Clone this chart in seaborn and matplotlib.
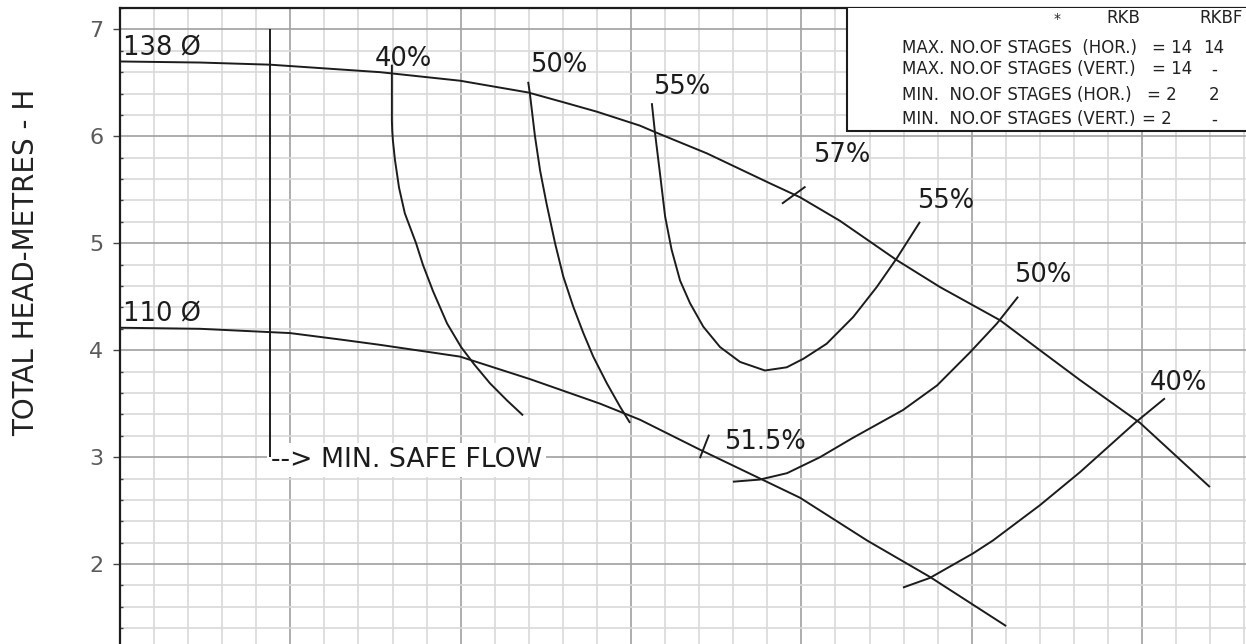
import numpy as np
import matplotlib
matplotlib.use("Agg")
import matplotlib.pyplot as plt
from matplotlib.patches import Rectangle
import seaborn as sns

# ---------------- data ----------------
# head/capacity curves for two impeller diameters
d138_x = [0.00, 2.35, 4.40, 7.63, 9.98, 11.98, 13.00, 14.00, 15.26, 15.70, 17.23, 19.08, 19.96,
          21.13, 22.81, 24.07, 25.83, 27.00, 28.18, 29.94, 31.99]
d138_y = [6.70, 6.69, 6.67, 6.60, 6.52, 6.41, 6.32, 6.23, 6.10, 6.04, 5.84, 5.56, 5.43,
          5.21, 4.84, 4.59, 4.28, 4.00, 3.72, 3.32, 2.72]

d110_x = [0.00, 2.35, 4.99, 6.46, 7.63, 9.98, 12.03, 14.09, 15.26, 17.02, 19.96, 21.93, 23.77, 26.01]
d110_y = [4.21, 4.20, 4.16, 4.10, 4.05, 3.94, 3.73, 3.50, 3.35, 3.07, 2.62, 2.22, 1.88, 1.42]

# iso-efficiency curves
eff40a_x = [7.98, 7.98, 7.99, 8.01, 8.07, 8.19, 8.36, 8.69, 8.89, 9.19, 9.60, 10.01, 10.39, 10.86, 11.36, 11.83]
eff40a_y = [6.67, 6.15, 6.05, 5.96, 5.78, 5.52, 5.28, 5.00, 4.80, 4.55, 4.25, 4.03, 3.87, 3.69, 3.53, 3.39]

eff50a_x = [11.98, 12.03, 12.18, 12.33, 12.52, 12.77, 13.01, 13.30, 13.60, 13.89, 14.29, 14.68, 14.97]
eff50a_y = [6.51, 6.40, 6.00, 5.68, 5.37, 5.00, 4.69, 4.41, 4.16, 3.94, 3.69, 3.47, 3.32]

eff55_x = [15.61, 15.70, 15.85, 16.00, 16.19, 16.44, 16.73, 17.12, 17.61, 18.20, 18.93, 19.57,
           20.06, 20.74, 21.52, 22.21, 22.80, 23.48]
eff55_y = [6.31, 6.04, 5.65, 5.25, 4.94, 4.65, 4.44, 4.22, 4.03, 3.89, 3.81, 3.84,
           3.92, 4.06, 4.31, 4.59, 4.86, 5.20]

eff50b_x = [17.99, 18.78, 19.58, 20.55, 21.51, 22.98, 23.98, 24.95, 25.74, 26.36]
eff50b_y = [2.77, 2.79, 2.85, 3.00, 3.18, 3.44, 3.67, 3.98, 4.25, 4.50]

eff40b_x = [22.98, 23.77, 25.04, 25.62, 27.00, 28.18, 29.79, 30.67]
eff40b_y = [1.78, 1.87, 2.10, 2.22, 2.55, 2.86, 3.32, 3.55]

# short best-efficiency marks
mark57_x = [19.43, 20.12]
mark57_y = [5.37, 5.53]
mark515_x = [17.02, 17.29]
mark515_y = [2.99, 3.21]

# minimum safe flow line
minflow_x = [4.40, 4.40]
minflow_y = [7.00, 3.00]

# curve labels: text, x (left), y (baseline)
curve_labels = ["138 Ø", "110 Ø", "40%", "50%", "55%", "57%", "55%", "50%", "40%", "51.5%"]
label_x = [0.09, 0.09, 7.48, 12.03, 15.64, 20.34, 23.39, 26.24, 30.23, 17.73]
label_y = [6.757, 4.27, 6.66, 6.60, 6.40, 5.76, 5.33, 4.64, 3.63, 3.08]

y_ticks = [2, 3, 4, 5, 6, 7]

table_header = ["*", "RKB", "RKBF"]
table_rows = ["MAX. NO.OF STAGES  (HOR.)", "MAX. NO.OF STAGES (VERT.)",
              "MIN.  NO.OF STAGES (HOR.)", "MIN.  NO.OF STAGES (VERT.)"]
table_rkb = ["= 14", "= 14", "= 2", "= 2"]
table_rkbf = ["14", "-", "2", "-"]

# ---------------- figure ----------------
sns.set_theme(style="white")
plt.rcParams["font.family"] = ["DejaVu Sans"]

W, H = 1246, 644
fig = plt.figure(figsize=(W / 100, H / 100), dpi=100)
fig.patch.set_facecolor("white")
ax = fig.add_axes([120 / W, 0, 1 - 120 / W, 1 - 8 / H])


def px2x(px):
    return (px - 120) / 34.07


def py2y(py):
    return 7 - (py - 29) / 107.0


ax.set_xlim(0, px2x(1246))
ax.set_ylim(py2y(644), py2y(8))

LINE = "#1c1c1c"
LW = 1.4
curves = [(d138_x, d138_y), (d110_x, d110_y), (eff40a_x, eff40a_y), (eff50a_x, eff50a_y),
          (eff55_x, eff55_y), (eff50b_x, eff50b_y), (eff40b_x, eff40b_y),
          (mark57_x, mark57_y), (mark515_x, mark515_y), (minflow_x, minflow_y)]
for cx, cy in curves:
    sns.lineplot(x=cx, y=cy, sort=False, estimator=None, color=LINE, lw=LW, ax=ax, zorder=3)
for ln in ax.lines:
    ln.set_solid_joinstyle("round")
    ln.set_solid_capstyle("butt")

# grid
ax.set_xticks(np.arange(0, 34, 5))
ax.set_xticks(np.arange(0, 34, 1), minor=True)
ax.set_yticks(y_ticks)
ax.set_yticks(np.arange(1.4, 7.2, 0.2), minor=True)
ax.set_axisbelow(True)
ax.grid(which="major", color="#a0a0a0", lw=1.2, zorder=0)
ax.grid(which="minor", color="#d9d9d9", lw=1.2, zorder=0)
ax.tick_params(axis="x", which="both", bottom=False, labelbottom=False)
ax.tick_params(axis="y", which="major", direction="out", length=5, width=1.0,
               color="#444444", labelsize=16, labelcolor="#5a5a5a", pad=7, left=True)
ax.tick_params(axis="y", which="minor", direction="in", length=2.5, width=1.0,
               color="#444444", left=True)
ax.set_yticklabels([str(t) for t in y_ticks])

for s in ["left", "top"]:
    ax.spines[s].set_visible(True)
    ax.spines[s].set_color("#1c1c1c")
    ax.spines[s].set_linewidth(1.6)
for s in ["right", "bottom"]:
    ax.spines[s].set_visible(False)

ax.set_xlabel("")
ax.set_ylabel("")
fig.text(26 / W, 1 - 262 / H, "TOTAL HEAD-METRES - H", rotation=90, ha="center",
         va="center", fontsize=20, color="#222222")

# curve labels
for t, lx, ly in zip(curve_labels, label_x, label_y):
    ax.text(lx, ly, t, fontsize=18.5, color="#1c1c1c", ha="left", va="baseline", zorder=4)

# minimum safe flow note
ax.text(px2x(271), py2y(467), "--> MIN. SAFE FLOW", fontsize=19.3, color="#1c1c1c",
        ha="left", va="baseline", zorder=2.5,
        bbox=dict(facecolor="white", edgecolor="none", pad=3))

# stages table
ax.add_patch(Rectangle((px2x(847), py2y(131)), 30, 3, facecolor="white",
                       edgecolor="#1c1c1c", lw=1.5, zorder=5))
tfs = 12
ax.text(px2x(1057), py2y(23), table_header[0], fontsize=tfs - 2, ha="center", va="baseline",
        color="#222222", zorder=6)
ax.text(px2x(1123), py2y(23), table_header[1], fontsize=tfs, ha="center", va="baseline",
        color="#222222", zorder=6)
ax.text(px2x(1221), py2y(23), table_header[2], fontsize=tfs, ha="center", va="baseline",
        color="#222222", zorder=6)
row_base = [53, 74, 100, 124]
eq_left = [1152, 1152, 1147, 1142]
for r, rk, rf, b, el in zip(table_rows, table_rkb, table_rkbf, row_base, eq_left):
    ax.text(px2x(902), py2y(b), r, fontsize=tfs, ha="left", va="baseline", color="#222222", zorder=6)
    ax.text(px2x(el), py2y(b), rk, fontsize=tfs, ha="left", va="baseline", color="#222222", zorder=6)
    ax.text(px2x(1214), py2y(b), rf, fontsize=tfs, ha="center", va="baseline", color="#222222", zorder=6)

fig.savefig("out.png", dpi=100, facecolor="white")
